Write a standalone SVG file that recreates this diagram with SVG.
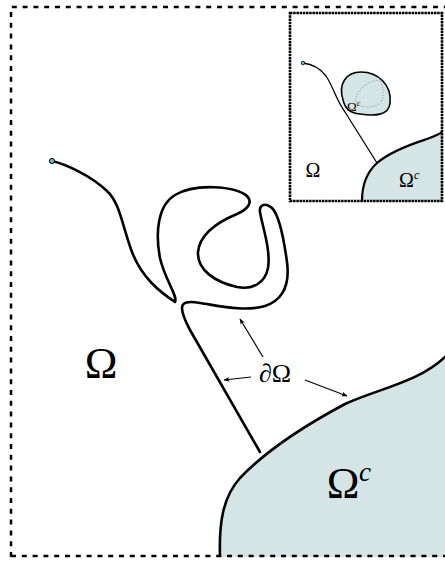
<svg xmlns="http://www.w3.org/2000/svg" width="445" height="562" viewBox="0 0 445 562">
<defs>
<style>
.curve{fill:none;stroke:#000;stroke-width:2.6;stroke-linecap:round;stroke-linejoin:round}
.region{fill:#d5e5e5;stroke:none}
.bound{fill:none;stroke:#000;stroke-width:2.6}
.outer{fill:none;stroke:#000;stroke-width:2.5;stroke-dasharray:5 5.8}
.lbl{font-family:"Liberation Serif","DejaVu Serif",serif;fill:#000}
.arr{fill:none;stroke:#000;stroke-width:1.2}
</style>
<marker id="ah" viewBox="0 0 10 10" refX="9" refY="5" markerWidth="6" markerHeight="6" orient="auto" markerUnits="userSpaceOnUse">
<path d="M0,1 L10,5 L0,9 L2.5,5 Z" fill="#000"/>
</marker>
</defs>
<rect width="445" height="562" fill="#fff"/>
<g id="complement">
<path class="region" d="M220,557 C219,525 222,498 240,478 C262,455 300,428 345,404 C380,388 420,382 447,355 L447,557 Z"/>
<path class="bound" d="M220,557 C219,525 222,498 240,478 C262,455 300,428 345,404 C380,388 420,382 447,355"/>
</g>
<g id="frame">
<path class="outer" d="M11,557 L11,7 L447,7"/>
<path class="outer" d="M11,556 L447,556"/>
</g>
<g id="boundary-curve">
<path class="curve" d="M52,161 C65,164 90,175 107,191 C120,203 122,225 132,252 C142,278 160,292 175,302 C178,296 165,280 160,258 C155,232 158,205 175,195 C195,183 235,186 247,196 C254,203 246,210 237,214 C220,221 200,232 198,252 C197,270 215,282 237,287 C253,290 265,283 268,268 C271,250 262,225 260,212 C259,205 265,202 272,208 C280,216 284,240 287,262 C290,285 283,300 265,306 C245,312 220,306 200,303 C188,301 182,302 182,308 C182,315 186,322 190,330 L260,452"/>
<circle cx="52" cy="161" r="2.6" fill="#5fbfbf" stroke="#000" stroke-width="1"/>
</g>
<g id="labels">
<text class="lbl" x="101" y="378" font-size="44" text-anchor="middle">Ω</text>
<text class="lbl" x="343" y="498" font-size="44" text-anchor="middle">Ω</text>
<text class="lbl" x="359" y="481" font-size="27" font-style="italic">c</text>
<text class="lbl" x="275" y="382" font-size="26" text-anchor="middle">∂Ω</text>
</g>
<g id="connectors">
<line class="arr" x1="263" y1="357" x2="240" y2="319" marker-end="url(#ah)"/>
<line class="arr" x1="251" y1="377" x2="224" y2="380" marker-end="url(#ah)"/>
<line class="arr" x1="305" y1="380" x2="347" y2="396" marker-end="url(#ah)"/>
</g>
<g id="inset">
<rect x="290" y="13" width="152" height="188" fill="#fff"/>
<path class="region" d="M362,201 C362,185 367,172 377,163 C392,150 415,143 427,139 C435,136 440,134 442,132 L442,201 Z"/>
<path d="M362,201 C362,185 367,172 377,163 C392,150 415,143 427,139 C435,136 440,134 442,132" fill="none" stroke="#000" stroke-width="2.2"/>
<path d="M343,100 C338,84 346,72 361,72 C378,72 392,85 390,103 C389,116 374,116 360,114 C349,113 345,108 343,100 Z" fill="#d5e5e5" stroke="#000" stroke-width="1.6"/>
<path d="M380,80 C372,80 360,86 356,97 C354,104 362,108 370,107 C378,106 383,103 383,95 C383,88 382,83 380,80" fill="none" stroke="#888" stroke-width="0.8" stroke-dasharray="1.2 1.5"/>
<path d="M303,63 C312,64 320,68 326,76 C333,86 336,100 345,112 L377,163" fill="none" stroke="#000" stroke-width="1.3"/>
<circle cx="303" cy="63" r="1.8" fill="#5fbfbf" stroke="#000" stroke-width="0.8"/>
<text class="lbl" x="347" y="111" font-size="13">Ω<tspan font-size="8" font-style="italic" dy="-5">c</tspan></text>
<text class="lbl" x="313" y="177" font-size="20" text-anchor="middle">Ω</text>
<text class="lbl" x="399" y="187" font-size="20">Ω<tspan font-size="12" font-style="italic" dy="-8">c</tspan></text>
<rect x="290" y="13" width="152" height="188" fill="none" stroke="#000" stroke-width="2.6" stroke-dasharray="2.5 0.7"/>
</g>
</svg>
